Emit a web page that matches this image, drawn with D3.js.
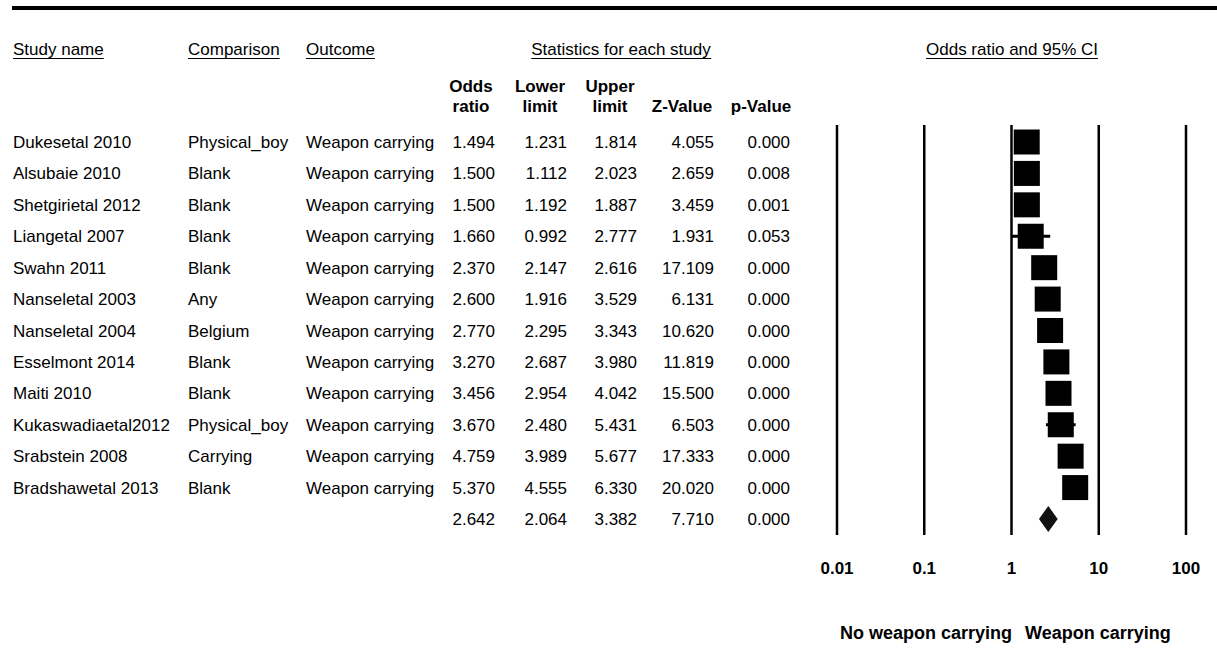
<!DOCTYPE html>
<html>
<head>
<meta charset="utf-8">
<script src="https://cdn.jsdelivr.net/npm/d3@7"></script>
<style>
  body { margin: 0; background: #fff; }
  svg { display: block; font-family: "Liberation Sans", Arial, sans-serif; }
</style>
</head>
<body>
<div id="chart"></div>
<script>
// Data
const studies = ["Dukesetal 2010", "Alsubaie 2010", "Shetgirietal 2012", "Liangetal 2007", "Swahn 2011",
  "Nanseletal 2003", "Nanseletal 2004", "Esselmont 2014", "Maiti 2010", "Kukaswadiaetal2012",
  "Srabstein 2008", "Bradshawetal 2013"];
const comparisons = ["Physical_boy", "Blank", "Blank", "Blank", "Blank", "Any", "Belgium", "Blank", "Blank",
  "Physical_boy", "Carrying", "Blank"];
const outcomes = studies.map(() => "Weapon carrying");
const oddsRatio = [1.494, 1.500, 1.500, 1.660, 2.370, 2.600, 2.770, 3.270, 3.456, 3.670, 4.759, 5.370];
const lowerLimit = [1.231, 1.112, 1.192, 0.992, 2.147, 1.916, 2.295, 2.687, 2.954, 2.480, 3.989, 4.555];
const upperLimit = [1.814, 2.023, 1.887, 2.777, 2.616, 3.529, 3.343, 3.980, 4.042, 5.431, 5.677, 6.330];
const zValue = [4.055, 2.659, 3.459, 1.931, 17.109, 6.131, 10.620, 11.819, 15.500, 6.503, 17.333, 20.020];
const pValue = [0.000, 0.008, 0.001, 0.053, 0.000, 0.000, 0.000, 0.000, 0.000, 0.000, 0.000, 0.000];

// pooled estimate
const summary = { or: 2.642, lower: 2.064, upper: 3.382, z: 7.710, p: 0.000 };

const tickValues = [0.01, 0.1, 1, 10, 100];
const tickLabels = ["0.01", "0.1", "1", "10", "100"];
const leftLabel = "No weapon carrying";
const rightLabel = "Weapon carrying";

const W = 1217, H = 648;
const FS = 17;

const svg = d3.select("#chart").append("svg")
  .attr("width", W)
  .attr("height", H);

// thick rule on top
svg.append("line")
  .attr("x1", 12).attr("x2", W)
  .attr("y1", 8).attr("y2", 8)
  .attr("stroke", "#000")
  .attr("stroke-width", 4);

const x = d3.scaleLog().domain([0.01, 100]).range([837, 1186]);
const rowY = d3.scaleLinear().domain([0, 12]).range([142, 519]);

const fmt = d3.format(".3f");

// underlined header text
function underlined(txt, xPos, y, anchor) {
  const t = svg.append("text")
    .attr("x", xPos).attr("y", y)
    .attr("text-anchor", anchor)
    .attr("font-size", FS)
    .text(txt);
  const bb = t.node().getBBox();
  svg.append("line")
    .attr("x1", bb.x).attr("x2", bb.x + bb.width)
    .attr("y1", y + 3.5).attr("y2", y + 3.5)
    .attr("stroke", "#000")
    .attr("stroke-width", 1.2);
}

underlined("Study name", 13, 55, "start");
underlined("Comparison", 188, 55, "start");
underlined("Outcome", 306, 55, "start");
underlined("Statistics for each study", 621, 55, "middle");
underlined("Odds ratio and 95% CI", 1012, 55, "middle");

// bold column headers
const headers = [
  { l1: "Odds", l2: "ratio", cx: 471 },
  { l1: "Lower", l2: "limit", cx: 540 },
  { l1: "Upper", l2: "limit", cx: 610 },
  { l1: "", l2: "Z-Value", cx: 682 },
  { l1: "", l2: "p-Value", cx: 761 }
];
headers.forEach(h => {
  svg.append("text").attr("x", h.cx).attr("y", 92)
    .attr("text-anchor", "middle").attr("font-weight", "bold").attr("font-size", FS)
    .text(h.l1);
  svg.append("text").attr("x", h.cx).attr("y", 112)
    .attr("text-anchor", "middle").attr("font-weight", "bold").attr("font-size", FS)
    .text(h.l2);
});

// numeric columns right edges
const numCols = [495, 567, 637, 714, 790];

function rowText(i, vals) {
  vals.forEach((v, j) => {
    svg.append("text")
      .attr("x", numCols[j]).attr("y", rowY(i) + 6)
      .attr("text-anchor", "end")
      .attr("font-size", FS)
      .text(fmt(v));
  });
}

studies.forEach((s, i) => {
  const y = rowY(i) + 6;
  svg.append("text").attr("x", 13).attr("y", y).attr("font-size", FS).text(s);
  svg.append("text").attr("x", 188).attr("y", y).attr("font-size", FS).text(comparisons[i]);
  svg.append("text").attr("x", 306).attr("y", y).attr("font-size", FS).text(outcomes[i]);
  rowText(i, [oddsRatio[i], lowerLimit[i], upperLimit[i], zValue[i], pValue[i]]);
});
rowText(12, [summary.or, summary.lower, summary.upper, summary.z, summary.p]);

// vertical reference lines
svg.selectAll("line.grid")
  .data(tickValues)
  .enter().append("line")
  .attr("class", "grid")
  .attr("x1", d => x(d)).attr("x2", d => x(d))
  .attr("y1", 125).attr("y2", 535)
  .attr("stroke", "#000")
  .attr("stroke-width", 2.5);

// tick labels
svg.selectAll("text.tick")
  .data(tickValues)
  .enter().append("text")
  .attr("class", "tick")
  .attr("x", d => x(d)).attr("y", 574)
  .attr("text-anchor", "middle")
  .attr("font-weight", "bold")
  .attr("font-size", FS)
  .text((d, i) => tickLabels[i]);

// CI whiskers
const idx = d3.range(studies.length);
svg.selectAll("line.ci")
  .data(idx)
  .enter().append("line")
  .attr("class", "ci")
  .attr("x1", i => x(lowerLimit[i])).attr("x2", i => x(upperLimit[i]))
  .attr("y1", i => rowY(i)).attr("y2", i => rowY(i))
  .attr("stroke", "#000")
  .attr("stroke-width", 3);

// point squares
const sq = 26;
svg.selectAll("rect.pt")
  .data(idx)
  .enter().append("rect")
  .attr("class", "pt")
  .attr("x", i => x(oddsRatio[i]) - sq / 2)
  .attr("y", i => rowY(i) - 12.5)
  .attr("width", sq).attr("height", 25)
  .attr("fill", "#000");

// summary diamond
const dy = rowY(12);
svg.append("path")
  .attr("d", `M${x(summary.lower)},${dy} L${x(summary.or)},${dy - 13} L${x(summary.upper)},${dy} L${x(summary.or)},${dy + 13} Z`)
  .attr("fill", "#111");

// direction labels
svg.append("text").attr("x", 1012).attr("y", 639)
  .attr("text-anchor", "end").attr("font-weight", "bold").attr("font-size", 18)
  .text(leftLabel);
svg.append("text").attr("x", 1025).attr("y", 639)
  .attr("text-anchor", "start").attr("font-weight", "bold").attr("font-size", 18)
  .text(rightLabel);
</script>
</body>
</html>
